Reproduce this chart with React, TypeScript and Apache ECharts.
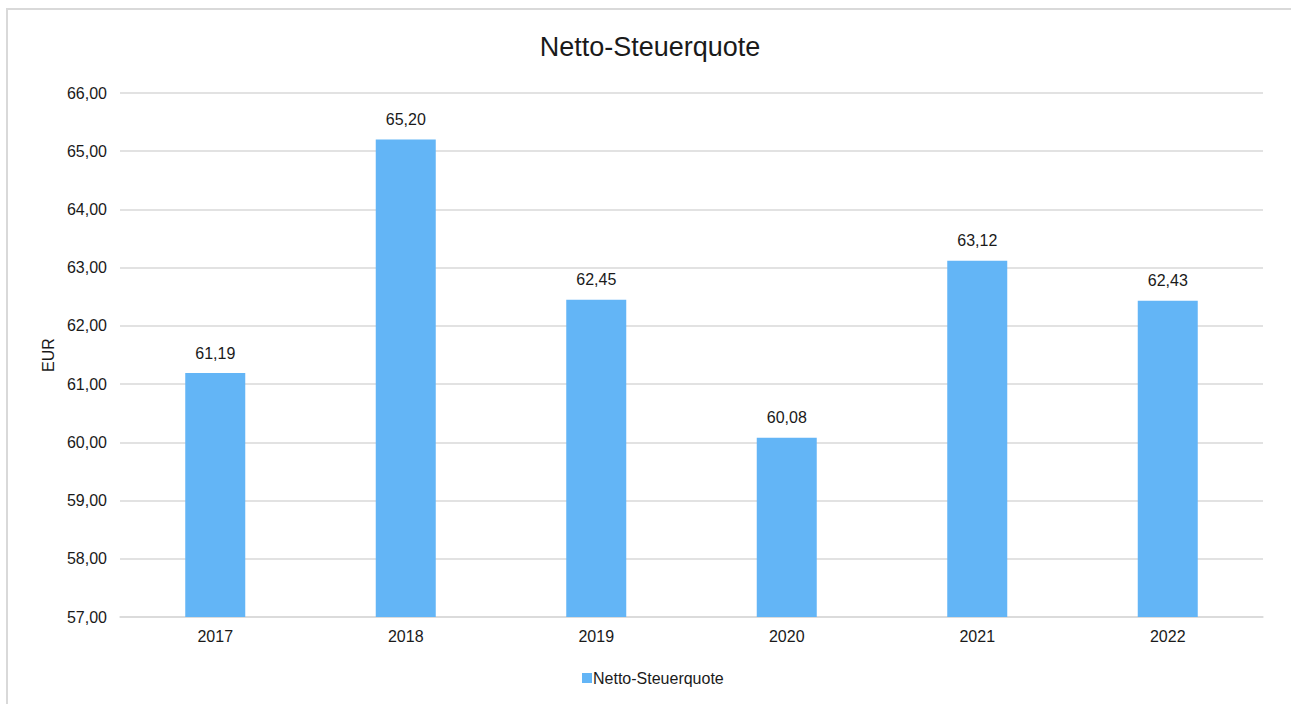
import React, { useEffect, useRef } from "react";
import * as echarts from "echarts";

const categories = ["2017", "2018", "2019", "2020", "2021", "2022"];
const values = [61.19, 65.2, 62.45, 60.08, 63.12, 62.43];
const seriesName = "Netto-Steuerquote";
const titleText = "Netto-Steuerquote";
const yAxisName = "EUR";

const fmt = (v: number) => v.toFixed(2).replace(".", ",");

export default function App() {
  const ref = useRef<HTMLDivElement>(null);
  useEffect(() => {
    if (!ref.current) return;
    const chart = echarts.init(ref.current, null, { renderer: "svg" });
    const font = "Liberation Sans, Arial, sans-serif";
    chart.setOption({
      animation: false,
      backgroundColor: "#ffffff",
      textStyle: { fontFamily: font },
      title: {
        text: titleText,
        left: 645,
        textAlign: "center",
        top: 28,
        textStyle: { fontSize: 27, fontWeight: "normal", color: "#1a1a1a", fontFamily: font },
      },
      graphic: [
        {
          type: "rect",
          shape: { x: 7, y: 9, width: 1300, height: 720 },
          style: { fill: "none", stroke: "#d9d9d9", lineWidth: 2 },
          silent: true,
        },
      ],
      legend: {
        bottom: 13,
        left: 577,
        itemWidth: 10,
        itemHeight: 10,
        itemGap: 10,
        icon: "rect",
        textStyle: { fontSize: 16, color: "#1a1a1a", fontFamily: font, padding: [0, 0, 0, -4] },
        data: [seriesName],
      },
      grid: { left: 120, right: 28, top: 93, bottom: 87, containLabel: false },
      xAxis: {
        type: "category",
        data: categories,
        axisTick: { show: false },
        axisLine: { lineStyle: { color: "#d9d9d9", width: 1.5 } },
        axisLabel: { fontSize: 16, color: "#1a1a1a", margin: 11, fontFamily: font },
      },
      yAxis: {
        type: "value",
        min: 57,
        max: 66,
        interval: 1,
        name: yAxisName,
        nameLocation: "middle",
        nameGap: 60,
        nameRotate: 90,
        nameTextStyle: { fontSize: 16, color: "#1a1a1a", fontFamily: font },
        axisLine: { show: false },
        axisTick: { show: false },
        splitLine: { lineStyle: { color: "#d9d9d9", width: 1.5 } },
        axisLabel: {
          fontSize: 16,
          color: "#1a1a1a",
          margin: 13,
          fontFamily: font,
          formatter: (v: number) => fmt(v),
        },
      },
      series: [
        {
          name: seriesName,
          type: "bar",
          data: values,
          barWidth: 60,
          itemStyle: { color: "#63b5f6" },
          label: {
            show: true,
            position: "top",
            distance: 12,
            fontSize: 16,
            color: "#1a1a1a",
            fontFamily: font,
            formatter: (p: any) => fmt(p.value),
          },
        },
      ],
    });
    return () => chart.dispose();
  }, []);
  return (
    <div
      ref={ref}
      style={{ position: "absolute", left: 0, top: 0, width: 1291, height: 704 }}
    />
  );
}
